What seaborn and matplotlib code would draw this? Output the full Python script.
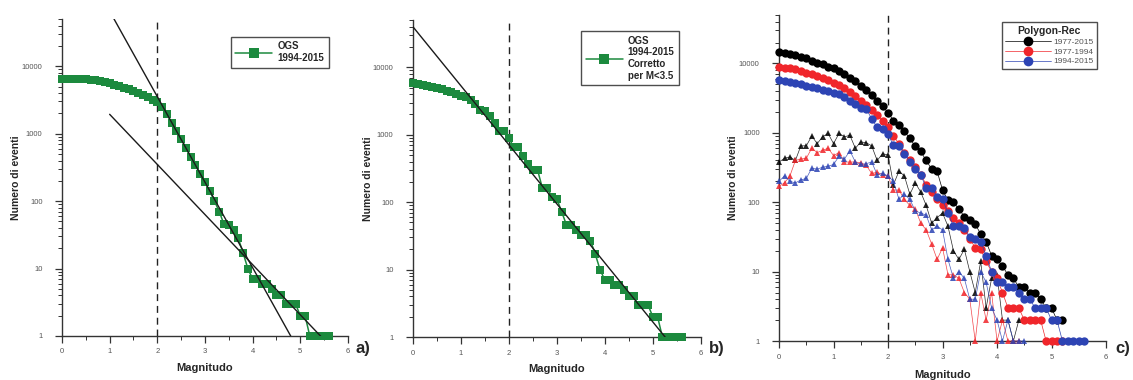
import numpy as np
import pandas as pd
import matplotlib
matplotlib.use("Agg")
import matplotlib.pyplot as plt
from matplotlib.ticker import FixedLocator, LogLocator, FuncFormatter, NullFormatter
from matplotlib.lines import Line2D
import seaborn as sns

# ---------------------------------------------------------------- data
MAG_STEP = 0.1

# OGS catalogue 1994-2015, cumulative number of events per magnitude
ogs_cum = [6500, 6500, 6500, 6500, 6450, 6400, 6300, 6200, 6000, 5800,
           5600, 5350, 5100, 4800, 4550, 4300, 4050, 3800, 3500, 3200,
           2950, 2500, 1950, 1450, 1100, 830, 620, 450, 340, 250,
           190, 140, 100, 70, 45, 44, 37, 28, 17, 10,
           7, 7, 6, 6, 5, 4, 4, 3, 3, 3,
           2, 2, 1, 1, 1, 1, 1]

# OGS 1994-2015 corrected for M<3.5
ogs_corr = [5900, 5700, 5500, 5300, 5100, 4900, 4700, 4500, 4300, 4000,
            3800, 3600, 3300, 2900, 2300, 2250, 1900, 1500, 1150, 1150,
            900, 650, 650, 490, 370, 295, 295, 160, 160, 120,
            112, 72, 46, 46, 39, 33, 33, 27, 17, 10,
            7, 7, 6, 6, 5, 4, 4, 3, 3, 3,
            2, 2, 1, 1, 1, 1, 1]

# Gutenberg-Richter fits (log10 N = a - b M) and magnitude spans
gr_a_steep, gr_b_steep, gr_span_steep = 6.085, 1.268, (1.0, 4.8)
gr_a_flat, gr_b_flat, gr_span_flat = 4.03, 0.743, (1.0, 5.43)
gr_a_corr, gr_b_corr, gr_span_corr = 4.60, 0.875, (0.0, 5.26)

# Polygon-Rec, cumulative counts
rec_periods = ["1977-2015", "1977-1994", "1994-2015"]
cum_1977_2015 = [14800, 14300, 13800, 13200, 12500, 11800, 11000, 10300, 9700, 9000,
                 8500, 7800, 7000, 6200, 5500, 4800, 4100, 3500, 2900, 2400,
                 1960, 1500, 1300, 1050, 830, 640, 540, 400, 300, 280,
                 150, 107, 100, 80, 62, 55, 48, 35, 27, 17,
                 15, 12, 9, 8, 6, 6, 5, 5, 4, 3,
                 3, 2, 2]
cum_1977_1994 = [8900, 8700, 8500, 8200, 7800, 7400, 7000, 6500, 6100, 5700,
                 5300, 4900, 4400, 3900, 3400, 2900, 2500, 2100, 1800, 1500,
                 1200, 900, 700, 520, 400, 320, 250, 180, 140, 110,
                 90, 75, 60, 50, 40, 30, 22, 21, 14, 10,
                 8, 5, 3, 3, 3, 2, 2, 2, 2, 1,
                 1, 1, 1]
cum_1994_2015 = [5800, 5600, 5400, 5200, 5000, 4800, 4600, 4400, 4200, 4000,
                 3800, 3600, 3300, 2900, 2600, 2300, 2200, 1600, 1200, 1150,
                 950, 660, 650, 500, 380, 300, 250, 160, 160, 120,
                 110, 70, 45, 45, 42, 32, 30, 27, 17, 10,
                 7, 7, 6, 6, 5, 4, 4, 3, 3, 3,
                 2, 2, 1, 1, 1, 1, 1]

# Polygon-Rec, non-cumulative counts per 0.1 bin
inc_1977_2015 = [380, 430, 450, 400, 650, 650, 900, 700, 880, 980,
                 700, 980, 880, 920, 600, 740, 720, 650, 400, 500,
                 480, 180, 280, 240, 130, 190, 140, 90, 50, 60,
                 70, 45, 20, 15, 21, 10, 5, 14, 3, 8,
                 9, 2, 2, 1, 2, 2]
inc_1977_1994 = [170, 190, 240, 400, 420, 430, 600, 520, 560, 600,
                 470, 520, 380, 380, 380, 370, 340, 260, 270, 250,
                 240, 150, 150, 110, 90, 80, 50, 40, 25, 15,
                 22, 9, 9, 8, 5, 4, 1, 5, 2, 5,
                 1, 2, 1, 1, 1]
inc_1994_2015 = [200, 240, 200, 190, 210, 220, 310, 300, 320, 330,
                 350, 460, 420, 550, 380, 350, 360, 380, 250, 260,
                 240, 200, 110, 130, 110, 75, 70, 65, 40, 45,
                 40, 15, 8, 10, 8, 4, 4, 10, 7, 3,
                 2, 1, 2, 1, 1, 1]

y_ticks = [1, 10, 100, 1000, 10000]
x_ticks = [0, 1, 2, 3, 4, 5, 6]
mc_line = 2.0

GREEN = "#1c8a3e"
REC_COLORS = ["#000000", "#f0262b", "#2d44b4"]


def mags(values):
    return np.round(np.arange(len(values)) * MAG_STEP, 1)


def frame(values):
    return pd.DataFrame({"M": mags(values), "N": values})


# ---------------------------------------------------------------- style
sns.set_style("ticks")
plt.rcParams["font.family"] = ["Liberation Sans", "DejaVu Sans"]
plt.rcParams["axes.edgecolor"] = "#333333"
plt.rcParams["axes.linewidth"] = 1.0

fig = plt.figure(figsize=(11.33, 3.8), dpi=100)
ax_a = fig.add_axes([0.0547, 0.1158, 0.2524, 0.834])
ax_b = fig.add_axes([0.3645, 0.1130, 0.2540, 0.834])
ax_c = fig.add_axes([0.6876, 0.1026, 0.2886, 0.858])


def style_axis(ax, ylab_x, xlab_y):
    ax.set_yscale("log")
    ax.set_ylim(1, 5e4)
    ax.set_xlim(0, 6)
    ax.xaxis.set_major_locator(FixedLocator(x_ticks))
    ax.xaxis.set_minor_locator(FixedLocator([t + 0.5 for t in x_ticks[:-1]]))
    ax.yaxis.set_major_locator(FixedLocator(y_ticks))
    ax.yaxis.set_minor_locator(LogLocator(base=10, subs=range(2, 10)))
    ax.yaxis.set_major_formatter(FuncFormatter(lambda v, p: f"{int(round(v))}"))
    ax.yaxis.set_minor_formatter(NullFormatter())
    ax.tick_params(axis="both", which="major", direction="out", length=5,
                   width=0.9, labelsize=5.5, labelcolor="#555555", color="#333333")
    ax.tick_params(axis="both", which="minor", direction="out", length=3,
                   width=0.7, color="#333333")
    ax.tick_params(axis="y", which="major", pad=9)
    ax.tick_params(axis="x", which="major", pad=4)
    sns.despine(ax=ax)
    ax.yaxis.set_label_coords(ylab_x, 0.5)
    ax.xaxis.set_label_coords(0.5, xlab_y)
    ax.axvline(mc_line, color="#222222", lw=1.0, ls=(0, (5, 3.5)))
    ax.grid(False)


def label_axis(ax):
    ax.set_xlabel("Magnitudo", fontsize=8, fontweight="bold")
    ax.set_ylabel("Numero di eventi", fontsize=7.5, fontweight="bold")


def gr_line(ax, a, b, span):
    m = np.array(span)
    ax.plot(m, 10 ** (a - b * m), color="#1a1a1a", lw=1.0, zorder=4)


# ---------------------------------------------------------------- panel a
style_axis(ax_a, -0.145, -0.085)
sns.lineplot(data=frame(ogs_cum), x="M", y="N", ax=ax_a, color=GREEN,
             marker="s", markersize=6.2, markeredgewidth=0, linewidth=1.1,
             clip_on=False, zorder=3)
gr_line(ax_a, gr_a_steep, gr_b_steep, gr_span_steep)
gr_line(ax_a, gr_a_flat, gr_b_flat, gr_span_flat)
label_axis(ax_a)
leg_a = ax_a.legend(handles=[Line2D([0], [0], color=GREEN, marker="s", ms=6.5,
                                    mew=0, lw=1.1)],
                    labels=["OGS\n1994-2015"], loc="upper right",
                    bbox_to_anchor=(0.95, 0.96), frameon=True, fancybox=False,
                    edgecolor="#222222", prop={"weight": "bold", "size": 7},
                    handlelength=3.8, borderpad=0.5, handletextpad=0.5)
leg_a.get_frame().set_linewidth(1.0)

# ---------------------------------------------------------------- panel b
style_axis(ax_b, -0.14, -0.085)
sns.lineplot(data=frame(ogs_corr), x="M", y="N", ax=ax_b, color=GREEN,
             marker="s", markersize=6.2, markeredgewidth=0, linewidth=1.1,
             clip_on=False, zorder=3)
gr_line(ax_b, gr_a_corr, gr_b_corr, gr_span_corr)
label_axis(ax_b)
leg_b = ax_b.legend(handles=[Line2D([0], [0], color=GREEN, marker="s", ms=6.5,
                                    mew=0, lw=1.1)],
                    labels=["OGS\n1994-2015\nCorretto\nper M<3.5"], loc="upper right",
                    bbox_to_anchor=(0.94, 0.98), frameon=True, fancybox=False,
                    edgecolor="#222222", prop={"weight": "bold", "size": 7},
                    handlelength=3.8, borderpad=0.45, handletextpad=0.5)
leg_b.get_frame().set_linewidth(1.0)

# ---------------------------------------------------------------- panel c
style_axis(ax_c, -0.125, -0.089)
cum_series = [cum_1977_2015, cum_1977_1994, cum_1994_2015]
inc_series = [inc_1977_2015, inc_1977_1994, inc_1994_2015]
for vals, col in zip(inc_series, REC_COLORS):
    sns.lineplot(data=frame(vals), x="M", y="N", ax=ax_c, color=col,
                 marker="^", markersize=4.0, markeredgewidth=0, linewidth=0.5,
                 alpha=0.85, clip_on=False, zorder=3)
for vals, col in zip(cum_series, REC_COLORS):
    sns.lineplot(data=frame(vals), x="M", y="N", ax=ax_c, color=col,
                 marker="o", markersize=6.0, markeredgewidth=0, linewidth=0.5,
                 clip_on=False, zorder=3)
label_axis(ax_c)
rec_handles = [Line2D([0], [0], color=c, marker="o", ms=7, mew=0, lw=0.5)
               for c in REC_COLORS]
leg_c = ax_c.legend(handles=rec_handles, labels=rec_periods, title="Polygon-Rec",
                    loc="upper right", bbox_to_anchor=(0.985, 0.99), frameon=True,
                    fancybox=False, edgecolor="#222222", prop={"size": 6},
                    title_fontproperties={"weight": "bold", "size": 7.5},
                    handlelength=5.5, borderpad=0.4, labelspacing=0.25,
                    handletextpad=0.3)
leg_c.get_frame().set_linewidth(1.0)
for t in leg_c.get_texts():
    t.set_color("#555555")

# ---------------------------------------------------------------- panel tags
for x, tag in [(0.320, "a)"), (0.633, "b)"), (0.991, "c)")]:
    fig.text(x, 0.084, tag, fontsize=12, fontweight="bold", ha="center", va="center")

fig.savefig("out.png", dpi=100)
